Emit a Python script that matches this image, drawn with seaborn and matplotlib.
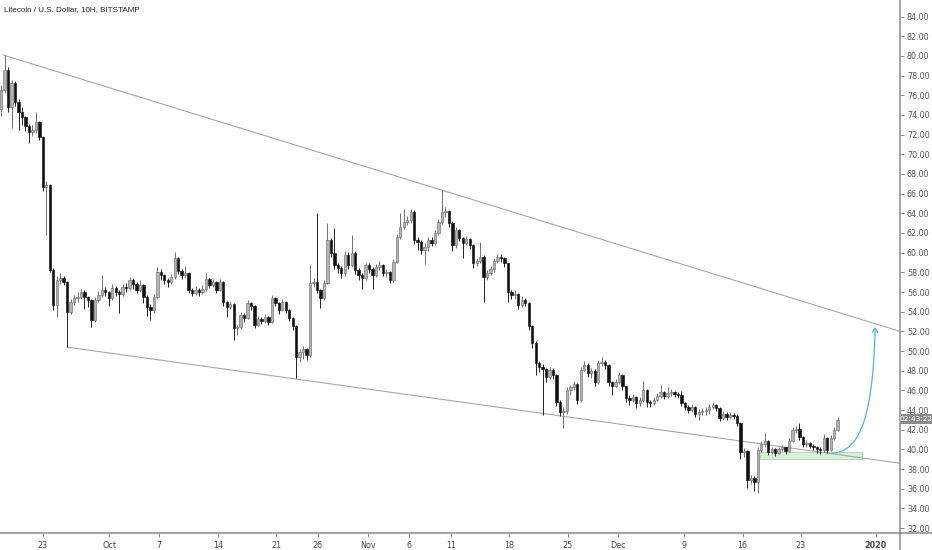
import numpy as np
import pandas as pd
import matplotlib
matplotlib.use("Agg")
import matplotlib.pyplot as plt
import matplotlib.dates as mdates
from matplotlib.patches import Rectangle, FancyArrowPatch
from matplotlib.path import Path
from matplotlib.lines import Line2D
import seaborn as sns

sns.set_theme(style="white")
plt.rcParams['font.family'] = ['DejaVu Sans']

title = "Litecoin / U.S. Dollar, 10H, BITSTAMP"
start_time = "2019-09-18 00:00"
first_open = 74.6

close = [
    # Sep 18 - Sep 24
    76.5, 78.6, 74.8, 77.2, 75.3, 74.3, 73.8, 72.9, 72.3, 72.5, 73.3, 71.8, 66.7, 66.9, 58.2, 54.7,
    # late Sep - mid Oct
    57.2, 57.4, 57.0, 54.0, 55.0, 55.4, 55.5, 56.0, 55.5, 55.2, 53.2, 55.2, 55.7, 56.2, 56.0, 55.4,
    56.4, 56.0, 55.8, 56.5, 56.4, 57.2, 56.8, 56.2, 56.7, 55.5, 54.5, 54.2, 55.5,
    # mid Oct - Oct 24
    58.0, 57.7, 57.2, 57.0, 57.5, 59.5, 58.1, 57.7, 57.9, 56.2, 55.9, 56.2, 56.0, 56.3, 57.3, 56.7,
    57.0, 56.2, 57.0, 55.0, 54.5, 54.8, 52.3, 52.4, 53.7, 53.4, 54.9, 54.6, 52.6, 53.3, 53.1, 53.5,
    53.0, 55.4, 54.9, 54.2, 55.0, 54.2, 53.4, 52.5, 49.4, 49.9, 50.2, 49.6,
    # Oct 25 - Nov 12
    56.9, 57.0, 56.2, 55.4, 56.9, 61.3, 60.0, 58.7, 58.4, 57.9, 59.8, 58.7, 60.0, 58.2, 57.7, 57.4,
    58.7, 58.3, 57.7, 58.5, 58.7, 57.9, 58.0, 57.2, 59.1, 61.6, 62.6, 63.1, 63.3, 64.1, 61.3, 61.1,
    60.3, 60.6, 61.3, 61.0, 62.0, 63.1, 64.1, 64.2, 63.0, 60.8, 62.3, 61.5,
    # Nov 12 - Nov 30
    61.0, 61.4, 60.8, 58.9, 59.2, 59.6, 57.5, 57.9, 58.3, 59.2, 59.6, 59.5, 58.9, 56.0, 55.7, 55.8,
    54.7, 55.2, 54.9, 52.5, 50.8, 48.8, 48.4, 48.2, 47.4, 48.1, 47.6, 44.8, 43.8, 43.9, 46.0, 46.3,
    46.7, 45.0, 48.1, 48.6, 47.8, 48.0, 46.9, 48.8, 48.9, 48.6,
    # Dec 1 - Dec 17
    46.9, 46.5, 46.9, 47.6, 46.4, 45.2, 45.0, 45.3, 44.7, 45.0, 46.0, 44.8, 44.7, 45.0, 45.4, 45.8,
    45.4, 45.7, 45.8, 45.6, 45.5, 44.7, 44.3, 44.0, 44.3, 43.6, 43.8, 43.9, 44.0, 44.3, 44.5, 44.2,
    43.2, 43.6, 43.3, 43.5, 43.4, 42.7, 39.7,
    # Dec 17 - Dec 27
    39.8, 36.9, 37.1, 36.7, 39.9, 40.6, 40.9, 39.7, 40.0, 39.6, 40.0, 40.2, 39.8, 40.9, 42.0, 42.1,
    41.3, 40.6, 40.7, 40.4, 40.3, 40.0, 39.9, 41.2, 39.9, 41.2, 42.0, 43.0,
]
high = [
    77.0, 80.1, 78.9, 77.6, 77.4, 75.6, 74.8, 73.9, 73.1, 73.0, 74.3, 73.4, 71.9, 67.3, 67.0, 58.4,
    57.6, 57.9, 57.6, 57.1, 55.3, 55.7, 56.0, 56.3, 56.2, 55.6, 55.3, 55.5, 56.1, 57.7, 56.5, 56.1,
    56.8, 56.6, 56.2, 56.8, 56.9, 57.5, 57.4, 57.0, 57.2, 56.8, 55.7, 54.8, 55.8,
    58.5, 58.3, 57.8, 57.4, 57.8, 60.1, 59.6, 58.3, 58.6, 58.0, 56.4, 56.6, 56.4, 56.7, 57.9, 57.4,
    57.3, 57.1, 57.3, 57.1, 55.1, 55.1, 54.9, 52.7, 54.0, 53.9, 55.2, 55.0, 54.7, 53.6, 53.5, 53.8,
    53.6, 55.7, 55.5, 55.0, 55.3, 55.1, 54.3, 53.5, 52.6, 50.2, 50.5, 50.3,
    58.7, 57.4, 64.0, 56.3, 57.2, 63.0, 61.5, 62.5, 59.0, 58.6, 60.2, 60.1, 61.8, 60.2, 58.4, 57.9,
    59.0, 58.9, 58.5, 58.8, 59.2, 58.8, 58.3, 58.1, 59.4, 61.9, 64.0, 64.4, 63.7, 64.4, 64.3, 61.6,
    61.3, 61.0, 61.6, 61.6, 62.3, 63.4, 66.4, 64.6, 64.3, 63.2, 62.6, 62.4,
    61.6, 61.7, 61.5, 60.9, 59.5, 61.1, 59.8, 58.2, 58.6, 59.5, 59.9, 59.9, 59.6, 59.0, 56.2, 56.2,
    55.9, 55.6, 55.4, 55.0, 52.6, 51.0, 49.0, 48.7, 48.3, 48.4, 48.3, 47.7, 45.0, 44.3, 46.3, 46.6,
    47.0, 46.8, 48.4, 49.0, 48.8, 48.3, 48.2, 49.1, 49.4, 49.1,
    48.7, 47.0, 47.2, 47.9, 47.7, 46.5, 45.5, 45.6, 45.4, 45.3, 47.0, 46.1, 45.0, 45.3, 45.7, 46.6,
    45.9, 46.3, 46.1, 45.9, 45.8, 45.9, 44.8, 44.5, 44.6, 44.4, 44.1, 44.2, 44.3, 44.6, 44.8, 44.6,
    44.3, 43.9, 43.8, 43.8, 43.7, 43.6, 42.8,
    40.1, 39.9, 37.4, 37.3, 40.2, 40.9, 41.7, 41.0, 40.3, 40.1, 40.3, 40.5, 40.3, 41.2, 42.3, 42.4,
    42.7, 41.4, 41.0, 40.8, 40.6, 40.4, 40.2, 41.6, 41.3, 41.5, 42.3, 43.3,
]
low = [
    73.9, 76.2, 74.3, 72.7, 74.9, 72.5, 73.0, 72.4, 71.1, 71.9, 72.2, 71.5, 66.3, 61.8, 58.0, 54.2,
    53.5, 56.8, 56.7, 50.4, 53.8, 54.7, 55.0, 55.3, 54.3, 54.5, 52.4, 53.0, 55.0, 55.5, 55.6, 54.6,
    55.2, 55.6, 53.9, 55.6, 56.0, 56.2, 56.3, 55.9, 56.0, 54.9, 53.6, 53.2, 53.9,
    55.3, 57.2, 56.8, 56.5, 56.8, 57.3, 57.8, 57.3, 57.4, 55.9, 55.6, 55.7, 55.6, 55.8, 56.1, 56.4,
    56.5, 55.9, 56.1, 54.6, 53.5, 54.3, 51.1, 51.6, 52.2, 53.0, 53.3, 54.2, 52.3, 52.5, 52.8, 52.9,
    52.7, 52.9, 54.6, 53.8, 54.1, 53.9, 53.1, 52.1, 47.3, 48.9, 49.2, 49.1,
    49.4, 56.5, 55.9, 54.4, 55.2, 56.8, 59.6, 58.3, 57.9, 57.4, 57.6, 58.3, 58.5, 57.8, 57.2, 56.3,
    57.2, 57.9, 56.3, 57.5, 58.2, 57.6, 57.5, 56.9, 57.0, 59.0, 61.4, 62.4, 62.8, 63.0, 60.9, 60.3,
    59.9, 58.8, 60.2, 60.7, 60.8, 61.8, 62.9, 63.6, 62.6, 60.2, 60.5, 61.2,
    59.5, 60.8, 60.4, 58.4, 58.6, 58.9, 55.0, 57.2, 57.7, 58.0, 59.0, 59.1, 58.5, 55.0, 55.3, 55.3,
    54.3, 54.5, 54.6, 52.1, 50.3, 47.6, 47.9, 43.5, 46.9, 47.2, 47.2, 44.4, 43.4, 42.2, 43.6, 45.5,
    46.0, 44.6, 44.8, 48.0, 47.4, 47.3, 46.5, 46.7, 48.5, 48.2,
    46.5, 45.5, 46.3, 46.7, 46.0, 44.8, 44.5, 44.8, 44.2, 44.4, 44.8, 44.3, 44.3, 44.5, 44.9, 45.2,
    45.1, 45.2, 45.4, 45.3, 45.2, 44.4, 44.0, 43.7, 43.8, 43.3, 43.0, 43.5, 43.5, 43.6, 44.1, 43.9,
    42.9, 43.0, 43.0, 43.1, 43.1, 42.4, 39.0,
    39.2, 36.1, 36.5, 35.8, 35.6, 39.7, 40.3, 39.4, 39.5, 39.3, 39.5, 39.8, 39.5, 39.7, 40.8, 41.7,
    41.0, 40.3, 40.2, 40.1, 39.9, 39.6, 39.5, 39.7, 39.6, 39.8, 41.0, 41.9,
]

# x-axis tick dates / labels
tick_dates = ["2019-09-23", "2019-10-01", "2019-10-07", "2019-10-14", "2019-10-21", "2019-10-26",
              "2019-11-01", "2019-11-06", "2019-11-11", "2019-11-18", "2019-11-25", "2019-12-01",
              "2019-12-09", "2019-12-16", "2019-12-23", "2020-01-01"]
tick_labels = ["23", "Oct", "7", "14", "21", "26", "Nov", "6", "11", "18", "25", "Dec",
               "9", "16", "23", "2020"]
y_ticks = list(range(32, 85, 2))

# trend lines (drawn annotations)
upper_line_dates = ["2019-09-18 05:00", "2020-01-03 22:00"]
upper_line_prices = [80.1, 52.0]
lower_line_dates = ["2019-09-25 22:00", "2020-01-03 22:00"]
lower_line_prices = [50.4, 38.6]
box_dates = ["2019-12-18 02:00", "2019-12-30 08:00"]
box_prices = [38.99, 39.72]
arrow_dates = ["2019-12-26 17:00", "2019-12-29 12:00", "2019-12-31 16:00", "2019-12-31 22:00"]
arrow_prices = [39.61, 39.74, 41.98, 52.44]
countdown = "02:43:22"

# ---------------------------------------------------------------------------
n = len(close)
times = pd.date_range(start_time, periods=n, freq="10h")
df = pd.DataFrame({"time": times, "close": close, "high": high, "low": low})
df["open"] = [first_open] + close[:-1]
df["x"] = mdates.date2num(df["time"])
df["up"] = df["close"] >= df["open"]

W, H = 932, 550
fig = plt.figure(figsize=(W / 100, H / 100), dpi=100)
fig.patch.set_facecolor("white")
ax = fig.add_axes([0, 17 / H, 900 / W, 533 / H])
ax.set_facecolor("white")

up_body, up_edge = "#b4b4b4", "#707070"
dn_body = "#111111"

# green zone
bx = mdates.date2num(pd.to_datetime(box_dates))
ax.add_patch(Rectangle((bx[0], box_prices[0]), bx[1] - bx[0], box_prices[1] - box_prices[0],
                       facecolor="#d8f0d8", edgecolor="#9ad19a", linewidth=0.5, zorder=1))

# trend lines via seaborn
ul = pd.DataFrame({"x": mdates.date2num(pd.to_datetime(upper_line_dates)), "y": upper_line_prices})
ll = pd.DataFrame({"x": mdates.date2num(pd.to_datetime(lower_line_dates)), "y": lower_line_prices})
sns.lineplot(data=ul, x="x", y="y", ax=ax, color="#a8a8a8", linewidth=0.8, zorder=2)
sns.lineplot(data=ll, x="x", y="y", ax=ax, color="#a8a8a8", linewidth=0.8, zorder=2)

# candles
bw = 0.28
for is_up, body, edge, wick in [(True, up_body, up_edge, up_edge), (False, dn_body, dn_body, "#222222")]:
    d = df[df["up"] == is_up]
    ax.vlines(d["x"], d["low"], d["high"], color=wick, linewidth=0.7, zorder=3)
    bottoms = np.minimum(d["open"], d["close"])
    heights = np.maximum(np.abs(d["close"] - d["open"]), 0.08)
    ax.bar(d["x"], heights, bottom=bottoms, width=bw, color=body, edgecolor=edge,
           linewidth=0.45, zorder=4)

# blue curved arrow
ax_pts = list(zip(mdates.date2num(pd.to_datetime(arrow_dates)), arrow_prices))
path = Path(ax_pts, [Path.MOVETO, Path.CURVE4, Path.CURVE4, Path.CURVE4])
arrow = FancyArrowPatch(path=path, arrowstyle="->,head_length=3,head_width=2",
                        color="#5aaee3", linewidth=0.9, transform=ax.transData, zorder=5)
ax.add_patch(arrow)

# axes limits
ax.set_xlim(mdates.date2num(pd.Timestamp("2019-09-17 20:40")),
            mdates.date2num(pd.Timestamp("2020-01-03 21:40")))
ax.set_ylim(31.51, 85.68)
ax.set_xlabel("")
ax.set_ylabel("")

for s in ["left", "top"]:
    ax.spines[s].set_visible(False)
for s in ["right", "bottom"]:
    ax.spines[s].set_color("#8a8a8a")
    ax.spines[s].set_linewidth(1.1)

ax.yaxis.tick_right()
ax.set_yticks(y_ticks)
ax.set_yticklabels([f"{v:.2f}" for v in y_ticks])
ax.set_xticks(mdates.date2num(pd.to_datetime(tick_dates)))
ax.set_xticklabels(tick_labels)
ax.tick_params(axis="y", which="major", direction="out", length=3, width=0.6, color="#777777",
               labelsize=5.8, labelcolor="#555555", pad=2, right=True, left=False)
ax.tick_params(axis="x", which="major", direction="out", length=3, width=0.6, color="#777777",
               labelsize=5.8, labelcolor="#444444", pad=2.5, bottom=True)
ax.get_xticklabels()[-1].set_fontweight("bold")
ax.grid(False)

# extend axis lines to figure edges
fig.add_artist(Line2D([900 / W, 900 / W], [0, 17 / H], transform=fig.transFigure,
                      color="#8a8a8a", linewidth=1.1))
fig.add_artist(Line2D([900 / W, 1], [17 / H, 17 / H], transform=fig.transFigure,
                      color="#8a8a8a", linewidth=1.1))

# countdown label
fig.add_artist(Rectangle((901 / W, (H - 424) / H), 31 / W, 10 / H, transform=fig.transFigure,
                         facecolor="#8c8c8c", edgecolor="none", zorder=10))
fig.text(916.5 / W, (H - 419) / H, countdown, ha="center", va="center", fontsize=5.3,
         color="white", zorder=11)

# title
fig.text(4 / W, 1 - 10 / H, title, ha="left", va="center", fontsize=5.8, color="#222222",
         family=["Liberation Sans Narrow", "DejaVu Sans Condensed", "Liberation Sans", "DejaVu Sans"])

fig.savefig("out.png", dpi=100)
